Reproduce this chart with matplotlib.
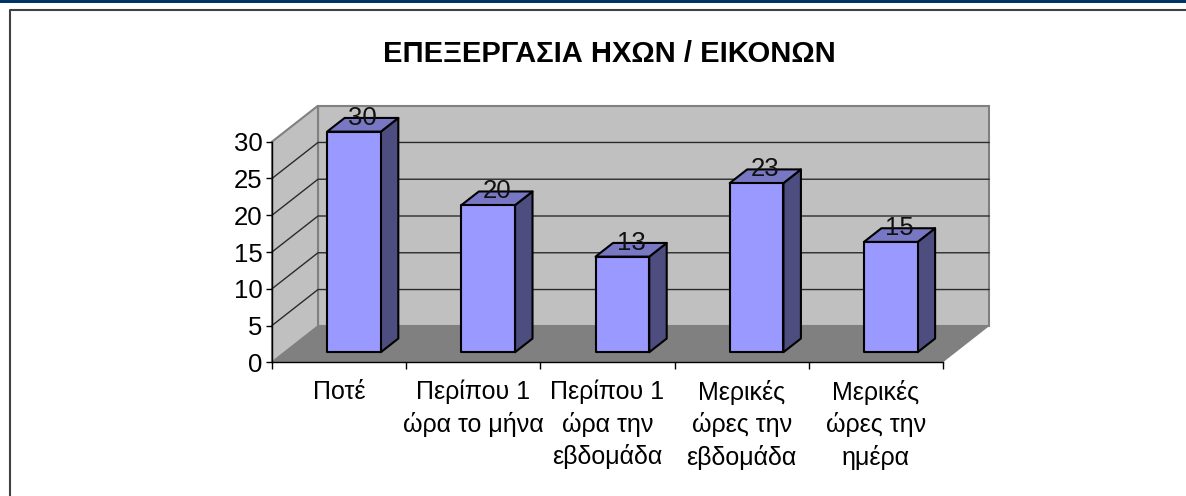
#!/usr/bin/env python3
"""3D-look column chart drawn on a flat axes, depth done by a small oblique projection."""
import matplotlib
matplotlib.use("Agg")
import matplotlib.pyplot as plt
from matplotlib.patches import Rectangle

plt.rcParams["font.family"] = ["Liberation Sans", "DejaVu Sans"]

TITLE = "ΕΠΕΞΕΡΓΑΣΙΑ ΗΧΩΝ / ΕΙΚΟΝΩΝ"
categories = [
    "Ποτέ",
    "Περίπου 1\nώρα το μήνα",
    "Περίπου 1\nώρα την\nεβδομάδα",
    "Μερικές\nώρες την\nεβδομάδα",
    "Μερικές\nώρες την\nημέρα",
]
values = [30, 20, 13, 23, 15]
y_ticks = [0, 5, 10, 15, 20, 25, 30]

W, H = 1186, 496
# front plane of the chart box, in pixels
LEFT, RIGHT, BOTTOM, TOP = 272, 943, 362.3, 141.7
# depth = 1 is the back wall
DX = 46 / ((RIGHT - LEFT) / 5)
DY = 36 / ((BOTTOM - TOP) / 30)


def proj(x, y, d):
    return x + DX * d, y + DY * d


def quad(ax, pts, **kw):
    xs, ys = zip(*pts)
    ax.fill(xs, ys, clip_on=False, **kw)


fig = plt.figure(figsize=(W / 100, H / 100), dpi=100, facecolor="white")
ax = fig.add_axes([LEFT / W, 1 - BOTTOM / H, (RIGHT - LEFT) / W, (BOTTOM - TOP) / H])
ax.patch.set_visible(False)

ymax = y_ticks[-1]
n = len(values)

# floor, back wall, side wall
quad(ax, [proj(0, 0, 0), proj(n, 0, 0), proj(n, 0, 1), proj(0, 0, 1)],
     facecolor="#808080", edgecolor="none", zorder=1)
quad(ax, [proj(0, 0, 1), proj(n, 0, 1), proj(n, ymax, 1), proj(0, ymax, 1)],
     facecolor="#C0C0C0", edgecolor="#808080", linewidth=1.5, zorder=1)
quad(ax, [proj(0, 0, 0), proj(0, 0, 1), proj(0, ymax, 1), proj(0, ymax, 0)],
     facecolor="#C0C0C0", edgecolor="#808080", linewidth=1.5, zorder=1)

# gridlines wrapping side wall and back wall
for t in y_ticks[1:-1]:
    pts = [proj(0, t, 0), proj(0, t, 1), proj(n, t, 1)]
    ax.plot(*zip(*pts), color="#2b2b2b", linewidth=1, clip_on=False, zorder=2)

# columns
BAR_W = 0.4
BAR_X = 0.315
D0, D1 = 0.28, 0.66
for i, v in enumerate(values):
    x0 = i + BAR_X
    x1 = x0 + BAR_W
    style = dict(edgecolor="black", linewidth=1.5, joinstyle="round", zorder=3)
    quad(ax, [proj(x1, 0, D0), proj(x1, 0, D1), proj(x1, v, D1), proj(x1, v, D0)],
         facecolor="#4D4D80", **style)
    quad(ax, [proj(x0, v, D0), proj(x1, v, D0), proj(x1, v, D1), proj(x0, v, D1)],
         facecolor="#7777C4", **style)
    quad(ax, [proj(x0, 0, D0), proj(x1, 0, D0), proj(x1, v, D0), proj(x0, v, D0)],
         facecolor="#9999FF", **style)
    ax.annotate(str(v), proj((x0 + x1) / 2, v, (D0 + D1) / 2), xytext=(0, 7),
                textcoords="offset pixels", ha="center", va="center",
                fontsize=18.5, color="#111111", zorder=4, annotation_clip=False)

ax.set_xlim(0, n)
ax.set_ylim(0, ymax)
ax.set_yticks(y_ticks)
ax.tick_params(axis="y", labelsize=18.5, length=4, width=1, pad=3)
ax.set_xticks(range(n + 1))
ax.set_xticklabels([])
ax.set_xticks([i + 0.5 for i in range(n)], minor=True)
ax.set_xticklabels(categories, minor=True, fontsize=18, linespacing=1.38)
ax.tick_params(axis="x", which="major", length=5, width=1)
ax.tick_params(axis="x", which="minor", length=0, pad=12.5)
ax.spines[["top", "right"]].set_visible(False)
ax.spines[["left", "bottom"]].set_linewidth(1)

fig.text(609 / W, 1 - 53.5 / H, TITLE, fontsize=21, fontweight="bold",
         ha="center", va="center", color="black")

# page furniture: navy strip and the cut-off chart frame
fig.add_artist(Rectangle((0, 1 - 3 / H), 1, 3 / H, transform=fig.transFigure,
                         facecolor="#003366", edgecolor="none"))
fig.add_artist(plt.Line2D([10 / W, 10 / W, 1], [0, 1 - 10 / H, 1 - 10 / H],
                          transform=fig.transFigure, color="#404040", linewidth=1.5))

fig.savefig("out.png", dpi=100, facecolor="white")
